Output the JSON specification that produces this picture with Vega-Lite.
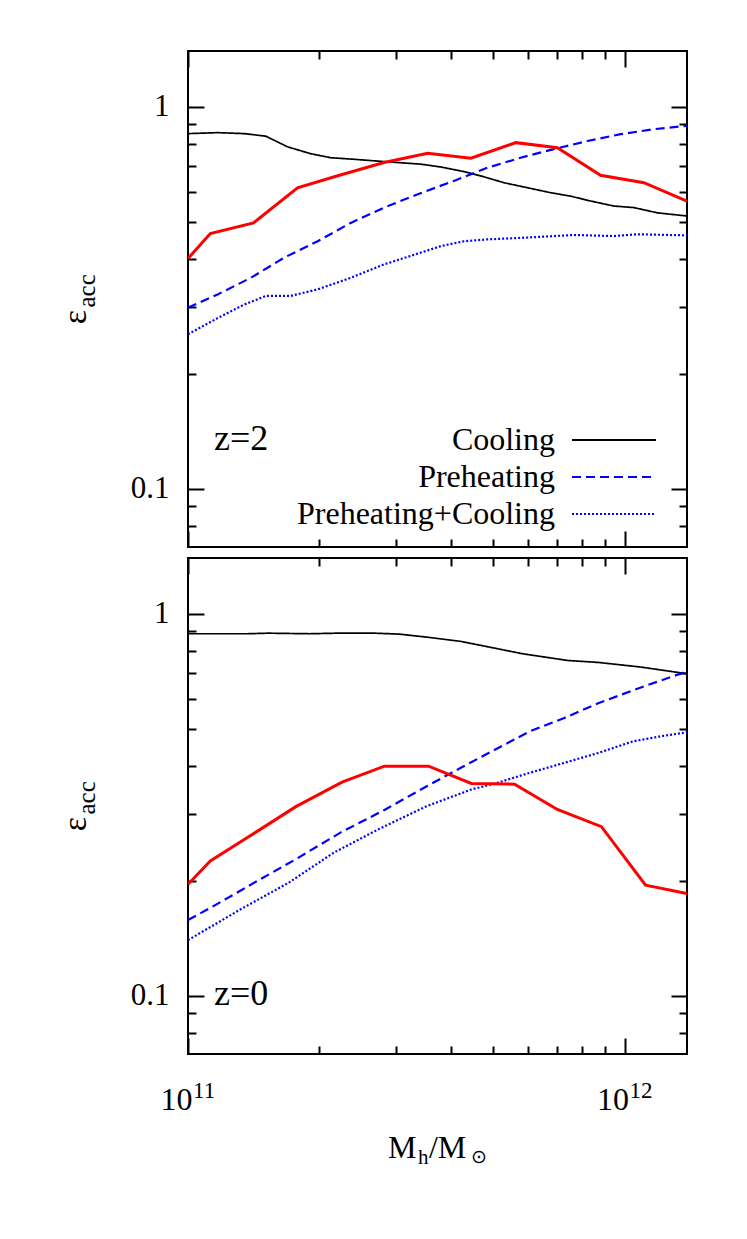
{
  "$schema": "https://vega.github.io/schema/vega-lite/v6.json",
  "background": "white",
  "padding": {"left": 58, "top": 49, "right": 0, "bottom": 0},
  "spacing": 7,
  "config": {
    "view": {"stroke": "black", "strokeWidth": 2},
    "font": "Liberation Serif",
    "text": {"font": "Liberation Serif", "color": "black"},
    "axis": {"domain": false, "grid": false, "tickColor": "black", "tickWidth": 2, "labelFont": "Liberation Serif", "labelFontSize": 31, "labelColor": "black", "labelFlush": false, "title": null}
  },
  "data": {"values": [
    {"z":2,"series":"Cooling","M":1.0e11,"eps":0.851},{"z":2,"series":"Cooling","M":1.17e11,"eps":0.856},{"z":2,"series":"Cooling","M":1.346e11,"eps":0.851},{"z":2,"series":"Cooling","M":1.507e11,"eps":0.838},{"z":2,"series":"Cooling","M":1.69e11,"eps":0.786},{"z":2,"series":"Cooling","M":1.91e11,"eps":0.754},{"z":2,"series":"Cooling","M":2.123e11,"eps":0.736},{"z":2,"series":"Cooling","M":2.404e11,"eps":0.729},{"z":2,"series":"Cooling","M":2.812e11,"eps":0.719},{"z":2,"series":"Cooling","M":3.412e11,"eps":0.708},{"z":2,"series":"Cooling","M":3.793e11,"eps":0.696},{"z":2,"series":"Cooling","M":4.285e11,"eps":0.677},{"z":2,"series":"Cooling","M":4.677e11,"eps":0.66},{"z":2,"series":"Cooling","M":5.297e11,"eps":0.633},{"z":2,"series":"Cooling","M":5.998e11,"eps":0.614},{"z":2,"series":"Cooling","M":6.776e11,"eps":0.596},{"z":2,"series":"Cooling","M":7.516e11,"eps":0.584},{"z":2,"series":"Cooling","M":8.356e11,"eps":0.567},{"z":2,"series":"Cooling","M":9.462e11,"eps":0.55},{"z":2,"series":"Cooling","M":1.05e12,"eps":0.545},{"z":2,"series":"Cooling","M":1.189e12,"eps":0.528},{"z":2,"series":"Cooling","M":1.39e12,"eps":0.518},
    {"z":2,"series":"Model","M":1.0e11,"eps":0.401},{"z":2,"series":"Model","M":1.125e11,"eps":0.466},{"z":2,"series":"Model","M":1.413e11,"eps":0.497},{"z":2,"series":"Model","M":1.782e11,"eps":0.614},{"z":2,"series":"Model","M":2.203e11,"eps":0.66},{"z":2,"series":"Model","M":2.812e11,"eps":0.715},{"z":2,"series":"Model","M":3.54e11,"eps":0.756},{"z":2,"series":"Model","M":4.446e11,"eps":0.734},{"z":2,"series":"Model","M":5.636e11,"eps":0.806},{"z":2,"series":"Model","M":7.015e11,"eps":0.782},{"z":2,"series":"Model","M":8.81e11,"eps":0.662},{"z":2,"series":"Model","M":1.107e12,"eps":0.633},{"z":2,"series":"Model","M":1.39e12,"eps":0.567},
    {"z":2,"series":"Preheating","M":1.0e11,"eps":0.298},{"z":2,"series":"Preheating","M":1.169e11,"eps":0.323},{"z":2,"series":"Preheating","M":1.393e11,"eps":0.357},{"z":2,"series":"Preheating","M":1.66e11,"eps":0.403},{"z":2,"series":"Preheating","M":1.982e11,"eps":0.445},{"z":2,"series":"Preheating","M":2.36e11,"eps":0.497},{"z":2,"series":"Preheating","M":2.812e11,"eps":0.545},{"z":2,"series":"Preheating","M":3.35e11,"eps":0.59},{"z":2,"series":"Preheating","M":4.064e11,"eps":0.64},{"z":2,"series":"Preheating","M":4.853e11,"eps":0.693},{"z":2,"series":"Preheating","M":5.781e11,"eps":0.736},{"z":2,"series":"Preheating","M":6.887e11,"eps":0.775},{"z":2,"series":"Preheating","M":8.222e11,"eps":0.814},{"z":2,"series":"Preheating","M":9.795e11,"eps":0.848},{"z":2,"series":"Preheating","M":1.167e12,"eps":0.874},{"z":2,"series":"Preheating","M":1.39e12,"eps":0.892},
    {"z":2,"series":"Preheating+Cooling","M":1.0e11,"eps":0.254},{"z":2,"series":"Preheating+Cooling","M":1.169e11,"eps":0.28},{"z":2,"series":"Preheating+Cooling","M":1.346e11,"eps":0.304},{"z":2,"series":"Preheating+Cooling","M":1.507e11,"eps":0.32},{"z":2,"series":"Preheating+Cooling","M":1.718e11,"eps":0.32},{"z":2,"series":"Preheating+Cooling","M":1.982e11,"eps":0.333},{"z":2,"series":"Preheating+Cooling","M":2.36e11,"eps":0.357},{"z":2,"series":"Preheating+Cooling","M":2.812e11,"eps":0.387},{"z":2,"series":"Preheating+Cooling","M":3.54e11,"eps":0.421},{"z":2,"series":"Preheating+Cooling","M":3.793e11,"eps":0.432},{"z":2,"series":"Preheating+Cooling","M":4.285e11,"eps":0.445},{"z":2,"series":"Preheating+Cooling","M":4.853e11,"eps":0.45},{"z":2,"series":"Preheating+Cooling","M":5.781e11,"eps":0.454},{"z":2,"series":"Preheating+Cooling","M":6.887e11,"eps":0.459},{"z":2,"series":"Preheating+Cooling","M":7.656e11,"eps":0.462},{"z":2,"series":"Preheating+Cooling","M":9.462e11,"eps":0.459},{"z":2,"series":"Preheating+Cooling","M":1.069e12,"eps":0.464},{"z":2,"series":"Preheating+Cooling","M":1.39e12,"eps":0.461},
    {"z":0,"series":"Cooling","M":1.0e11,"eps":0.887},{"z":0,"series":"Cooling","M":1.368e11,"eps":0.887},{"z":0,"series":"Cooling","M":1.528e11,"eps":0.89},{"z":0,"series":"Cooling","M":1.897e11,"eps":0.887},{"z":0,"series":"Cooling","M":2.193e11,"eps":0.89},{"z":0,"series":"Cooling","M":2.679e11,"eps":0.89},{"z":0,"series":"Cooling","M":3.048e11,"eps":0.885},{"z":0,"series":"Cooling","M":3.524e11,"eps":0.869},{"z":0,"series":"Cooling","M":4.217e11,"eps":0.847},{"z":0,"series":"Cooling","M":4.887e11,"eps":0.819},{"z":0,"series":"Cooling","M":5.848e11,"eps":0.786},{"z":0,"series":"Cooling","M":7.413e11,"eps":0.755},{"z":0,"series":"Cooling","M":8.73e11,"eps":0.746},{"z":0,"series":"Cooling","M":1.086e12,"eps":0.726},{"z":0,"series":"Cooling","M":1.39e12,"eps":0.697},
    {"z":0,"series":"Model","M":1.0e11,"eps":0.196},{"z":0,"series":"Model","M":1.125e11,"eps":0.2256},{"z":0,"series":"Model","M":1.368e11,"eps":0.2597},{"z":0,"series":"Model","M":1.766e11,"eps":0.3129},{"z":0,"series":"Model","M":2.254e11,"eps":0.3627},{"z":0,"series":"Model","M":2.818e11,"eps":0.3994},{"z":0,"series":"Model","M":3.556e11,"eps":0.3994},{"z":0,"series":"Model","M":4.457e11,"eps":0.3598},{"z":0,"series":"Model","M":5.598e11,"eps":0.3584},{"z":0,"series":"Model","M":7.015e11,"eps":0.3077},{"z":0,"series":"Model","M":8.851e11,"eps":0.2774},{"z":0,"series":"Model","M":1.117e12,"eps":0.195},{"z":0,"series":"Model","M":1.39e12,"eps":0.1854},
    {"z":0,"series":"Preheating","M":1.0e11,"eps":0.158},{"z":0,"series":"Preheating","M":1.13e11,"eps":0.1705},{"z":0,"series":"Preheating","M":1.419e11,"eps":0.198},{"z":0,"series":"Preheating","M":1.766e11,"eps":0.228},{"z":0,"series":"Preheating","M":2.234e11,"eps":0.2676},{"z":0,"series":"Preheating","M":2.831e11,"eps":0.3077},{"z":0,"series":"Preheating","M":3.524e11,"eps":0.354},{"z":0,"series":"Preheating","M":4.217e11,"eps":0.3956},{"z":0,"series":"Preheating","M":5.058e11,"eps":0.4415},{"z":0,"series":"Preheating","M":6.067e11,"eps":0.4928},{"z":0,"series":"Preheating","M":7.278e11,"eps":0.534},{"z":0,"series":"Preheating","M":8.73e11,"eps":0.5846},{"z":0,"series":"Preheating","M":1.107e12,"eps":0.6458},{"z":0,"series":"Preheating","M":1.39e12,"eps":0.707},
    {"z":0,"series":"Preheating+Cooling","M":1.0e11,"eps":0.14},{"z":0,"series":"Preheating+Cooling","M":1.321e11,"eps":0.1687},{"z":0,"series":"Preheating+Cooling","M":1.702e11,"eps":0.198},{"z":0,"series":"Preheating+Cooling","M":2.158e11,"eps":0.2372},{"z":0,"series":"Preheating+Cooling","M":2.729e11,"eps":0.273},{"z":0,"series":"Preheating+Cooling","M":3.524e11,"eps":0.314},{"z":0,"series":"Preheating+Cooling","M":4.457e11,"eps":0.347},{"z":0,"series":"Preheating+Cooling","M":5.058e11,"eps":0.36},{"z":0,"series":"Preheating+Cooling","M":6.067e11,"eps":0.3837},{"z":0,"series":"Preheating+Cooling","M":7.278e11,"eps":0.4075},{"z":0,"series":"Preheating+Cooling","M":8.73e11,"eps":0.4329},{"z":0,"series":"Preheating+Cooling","M":1.047e12,"eps":0.464},{"z":0,"series":"Preheating+Cooling","M":1.211e12,"eps":0.4782},{"z":0,"series":"Preheating+Cooling","M":1.39e12,"eps":0.4899}
  ]},
  "resolve": {"scale": {"color": "independent", "strokeDash": "independent"}},
  "vconcat": [
    {
      "width": 499, "height": 496,
      "resolve": {"axis": {"x": "independent", "y": "independent"}},
      "layer": [
        {
          "transform": [{"filter": "datum.z == 2 && datum.series != 'Model'"}],
          "mark": {"type": "line", "clip": true},
          "encoding": {
            "x": {"field": "M", "type": "quantitative", "scale": {"type": "log", "domain": [1e11, 1.39e12], "nice": false}, "axis": {"orient": "bottom", "values": [1e11, 1e12], "tickSize": -16, "labels": false}},
            "y": {"field": "eps", "type": "quantitative", "scale": {"type": "log", "domain": [0.0705, 1.4], "nice": false}, "axis": {"orient": "left", "values": [0.1, 1], "tickSize": -16, "labelPadding": 35, "labelFont": "Liberation Serif", "labelFontSize": 31, "labelExpr": "datum.value > 0.5 ? '1' : '0.1'"}},
            "color": {"field": "series", "type": "nominal", "scale": {"domain": ["Cooling", "Preheating", "Preheating+Cooling"], "range": ["#000000", "#0000ff", "#0000ff"]},
              "legend": {"orient": "none", "legendX": 410, "legendY": 373, "title": null, "symbolType": "M-10,0H10", "symbolSize": 70.6, "symbolStrokeWidth": 2, "labelFont": "Liberation Serif", "labelFontSize": 32, "labelColor": "black", "labelLimit": 500, "rowPadding": 5, "padding": 0,
                "encode": {"labels": {"update": {"x": {"value": -43}, "align": {"value": "right"}}}}}},
            "strokeDash": {"field": "series", "type": "nominal", "scale": {"domain": ["Cooling", "Preheating", "Preheating+Cooling"], "range": [[1, 0], [9, 5], [2, 2]]},
              "legend": {"orient": "none", "legendX": 410, "legendY": 373, "title": null, "symbolType": "M-10,0H10", "symbolSize": 70.6, "symbolStrokeWidth": 2, "labelFont": "Liberation Serif", "labelFontSize": 32, "labelColor": "black", "labelLimit": 500, "rowPadding": 5, "padding": 0,
                "encode": {"labels": {"update": {"x": {"value": -43}, "align": {"value": "right"}}}}}},
            "strokeWidth": {"condition": {"test": "datum.series == 'Cooling'", "value": 1.7}, "value": 2.2}
          }
        },
        {
          "transform": [{"filter": "datum.z == 2 && datum.series == 'Model'"}],
          "mark": {"type": "line", "clip": true, "color": "#ff0000", "strokeWidth": 3},
          "encoding": {
            "x": {"field": "M", "type": "quantitative", "scale": {"type": "log", "domain": [1e11, 1.39e12], "nice": false}, "axis": {"orient": "bottom", "values": [2e11, 3e11, 4e11, 5e11, 6e11, 7e11, 8e11, 9e11], "tickSize": -8, "labels": false}},
            "y": {"field": "eps", "type": "quantitative", "scale": {"type": "log", "domain": [0.0705, 1.4], "nice": false}, "axis": {"orient": "left", "values": [0.08, 0.09, 0.2, 0.3, 0.4, 0.5, 0.6, 0.7, 0.8, 0.9], "tickSize": -8, "labels": false}}
          }
        },
        {
          "transform": [{"filter": "datum.z == 2"}],
          "mark": {"type": "line", "strokeOpacity": 0},
          "encoding": {
            "x": {"field": "M", "type": "quantitative", "scale": {"type": "log", "domain": [1e11, 1.39e12], "nice": false}, "axis": {"orient": "top", "values": [1e11, 1e12], "tickSize": -16, "labels": false}},
            "y": {"field": "eps", "type": "quantitative", "scale": {"type": "log", "domain": [0.0705, 1.4], "nice": false}, "axis": {"orient": "right", "values": [0.1, 1], "tickSize": -16, "labels": false}}
          }
        },
        {
          "transform": [{"filter": "datum.z == 2"}],
          "mark": {"type": "line", "strokeOpacity": 0},
          "encoding": {
            "x": {"field": "M", "type": "quantitative", "scale": {"type": "log", "domain": [1e11, 1.39e12], "nice": false}, "axis": {"orient": "top", "values": [2e11, 3e11, 4e11, 5e11, 6e11, 7e11, 8e11, 9e11], "tickSize": -8, "labels": false}},
            "y": {"field": "eps", "type": "quantitative", "scale": {"type": "log", "domain": [0.0705, 1.4], "nice": false}, "axis": {"orient": "right", "values": [0.08, 0.09, 0.2, 0.3, 0.4, 0.5, 0.6, 0.7, 0.8, 0.9], "tickSize": -8, "labels": false}}
          }
        },
        {
          "data": {"values": [{"label": "z=2"}]},
          "mark": {"type": "text", "align": "left", "baseline": "alphabetic", "fontSize": 36, "font": "Liberation Serif"},
          "encoding": {"text": {"field": "label"}, "x": {"datum": 1.147e11, "type": "quantitative", "axis": null}, "y": {"datum": 0.1262, "type": "quantitative", "axis": null}}
        },
        {
          "data": {"values": [{"label": "ε"}]},
          "mark": {"type": "text", "align": "center", "baseline": "middle", "angle": 270, "fontSize": 34, "font": "Liberation Serif"},
          "encoding": {"text": {"field": "label"}, "x": {"datum": 5.54e10, "type": "quantitative", "axis": null}, "y": {"datum": 0.2816, "type": "quantitative", "axis": null}}
        },
        {
          "data": {"values": [{"label": "acc"}]},
          "mark": {"type": "text", "align": "center", "baseline": "middle", "angle": 270, "fontSize": 25, "font": "Liberation Serif"},
          "encoding": {"text": {"field": "label"}, "x": {"datum": 5.87e10, "type": "quantitative", "axis": null}, "y": {"datum": 0.33, "type": "quantitative", "axis": null}}
        }
      ]
    },
    {
      "width": 499, "height": 496,
      "resolve": {"axis": {"x": "independent", "y": "independent"}},
      "layer": [
        {
          "transform": [{"filter": "datum.z == 0 && datum.series != 'Model'"}],
          "mark": {"type": "line", "clip": true},
          "encoding": {
            "x": {"field": "M", "type": "quantitative", "scale": {"type": "log", "domain": [1e11, 1.39e12], "nice": false}, "axis": {"orient": "bottom", "values": [1e11, 1e12], "tickSize": -16, "labelPadding": 46, "labelFont": "Liberation Serif", "labelFontSize": 32, "labelAlign": "right", "labelOffset": 4, "labelExpr": "'10'"}},
            "y": {"field": "eps", "type": "quantitative", "scale": {"type": "log", "domain": [0.0705, 1.4], "nice": false}, "axis": {"orient": "left", "values": [0.1, 1], "tickSize": -16, "labelPadding": 35, "labelFont": "Liberation Serif", "labelFontSize": 31, "labelExpr": "datum.value > 0.5 ? '1' : '0.1'"}},
            "color": {"field": "series", "type": "nominal", "scale": {"domain": ["Cooling", "Preheating", "Preheating+Cooling"], "range": ["#000000", "#0000ff", "#0000ff"]}, "legend": null},
            "strokeDash": {"field": "series", "type": "nominal", "scale": {"domain": ["Cooling", "Preheating", "Preheating+Cooling"], "range": [[1, 0], [9, 5], [2, 2]]}, "legend": null},
            "strokeWidth": {"condition": {"test": "datum.series == 'Cooling'", "value": 1.7}, "value": 2.2}
          }
        },
        {
          "transform": [{"filter": "datum.z == 0 && datum.series == 'Model'"}],
          "mark": {"type": "line", "clip": true, "color": "#ff0000", "strokeWidth": 3},
          "encoding": {
            "x": {"field": "M", "type": "quantitative", "scale": {"type": "log", "domain": [1e11, 1.39e12], "nice": false}, "axis": {"orient": "bottom", "values": [2e11, 3e11, 4e11, 5e11, 6e11, 7e11, 8e11, 9e11], "tickSize": -8, "labels": false}},
            "y": {"field": "eps", "type": "quantitative", "scale": {"type": "log", "domain": [0.0705, 1.4], "nice": false}, "axis": {"orient": "left", "values": [0.08, 0.09, 0.2, 0.3, 0.4, 0.5, 0.6, 0.7, 0.8, 0.9], "tickSize": -8, "labels": false}}
          }
        },
        {
          "transform": [{"filter": "datum.z == 0"}],
          "mark": {"type": "line", "strokeOpacity": 0},
          "encoding": {
            "x": {"field": "M", "type": "quantitative", "scale": {"type": "log", "domain": [1e11, 1.39e12], "nice": false}, "axis": {"orient": "top", "values": [1e11, 1e12], "tickSize": -16, "labels": false}},
            "y": {"field": "eps", "type": "quantitative", "scale": {"type": "log", "domain": [0.0705, 1.4], "nice": false}, "axis": {"orient": "right", "values": [0.1, 1], "tickSize": -16, "labels": false}}
          }
        },
        {
          "transform": [{"filter": "datum.z == 0"}],
          "mark": {"type": "line", "strokeOpacity": 0},
          "encoding": {
            "x": {"field": "M", "type": "quantitative", "scale": {"type": "log", "domain": [1e11, 1.39e12], "nice": false}, "axis": {"orient": "top", "values": [2e11, 3e11, 4e11, 5e11, 6e11, 7e11, 8e11, 9e11], "tickSize": -8, "labels": false}},
            "y": {"field": "eps", "type": "quantitative", "scale": {"type": "log", "domain": [0.0705, 1.4], "nice": false}, "axis": {"orient": "right", "values": [0.08, 0.09, 0.2, 0.3, 0.4, 0.5, 0.6, 0.7, 0.8, 0.9], "tickSize": -8, "labels": false}}
          }
        },
        {
          "data": {"values": [{"label": "11", "M": 1e11}, {"label": "12", "M": 1e12}]},
          "mark": {"type": "text", "align": "left", "baseline": "alphabetic", "fontSize": 23, "font": "Liberation Serif", "dx": 5},
          "encoding": {"text": {"field": "label"}, "x": {"field": "M", "type": "quantitative", "axis": null}, "y": {"datum": 0.0541, "type": "quantitative", "axis": null}}
        },
        {
          "data": {"values": [{"label": "z=0"}]},
          "mark": {"type": "text", "align": "left", "baseline": "alphabetic", "fontSize": 36, "font": "Liberation Serif"},
          "encoding": {"text": {"field": "label"}, "x": {"datum": 1.147e11, "type": "quantitative", "axis": null}, "y": {"datum": 0.0947, "type": "quantitative", "axis": null}}
        },
        {
          "data": {"values": [{"label": "ε"}]},
          "mark": {"type": "text", "align": "center", "baseline": "middle", "angle": 270, "fontSize": 34, "font": "Liberation Serif"},
          "encoding": {"text": {"field": "label"}, "x": {"datum": 5.54e10, "type": "quantitative", "axis": null}, "y": {"datum": 0.2816, "type": "quantitative", "axis": null}}
        },
        {
          "data": {"values": [{"label": "acc"}]},
          "mark": {"type": "text", "align": "center", "baseline": "middle", "angle": 270, "fontSize": 25, "font": "Liberation Serif"},
          "encoding": {"text": {"field": "label"}, "x": {"datum": 5.87e10, "type": "quantitative", "axis": null}, "y": {"datum": 0.33, "type": "quantitative", "axis": null}}
        },
        {
          "data": {"values": [{"label": "M"}]},
          "mark": {"type": "text", "align": "left", "baseline": "alphabetic", "fontSize": 32, "font": "Liberation Serif"},
          "encoding": {"text": {"field": "label"}, "x": {"datum": 2.87e11, "type": "quantitative", "axis": null}, "y": {"datum": 0.0377, "type": "quantitative", "axis": null}}
        },
        {
          "data": {"values": [{"label": "h"}]},
          "mark": {"type": "text", "align": "left", "baseline": "alphabetic", "fontSize": 21, "font": "Liberation Serif", "dx": 30, "dy": 6},
          "encoding": {"text": {"field": "label"}, "x": {"datum": 2.87e11, "type": "quantitative", "axis": null}, "y": {"datum": 0.0377, "type": "quantitative", "axis": null}}
        },
        {
          "data": {"values": [{"label": "/M"}]},
          "mark": {"type": "text", "align": "left", "baseline": "alphabetic", "fontSize": 32, "font": "Liberation Serif", "dx": 41},
          "encoding": {"text": {"field": "label"}, "x": {"datum": 2.87e11, "type": "quantitative", "axis": null}, "y": {"datum": 0.0377, "type": "quantitative", "axis": null}}
        },
        {
          "data": {"values": [{"label": "⊙"}]},
          "mark": {"type": "text", "align": "left", "baseline": "alphabetic", "fontSize": 19, "dx": 83, "dy": 5},
          "encoding": {"text": {"field": "label"}, "x": {"datum": 2.87e11, "type": "quantitative", "axis": null}, "y": {"datum": 0.0377, "type": "quantitative", "axis": null}}
        }
      ]
    }
  ]
}
